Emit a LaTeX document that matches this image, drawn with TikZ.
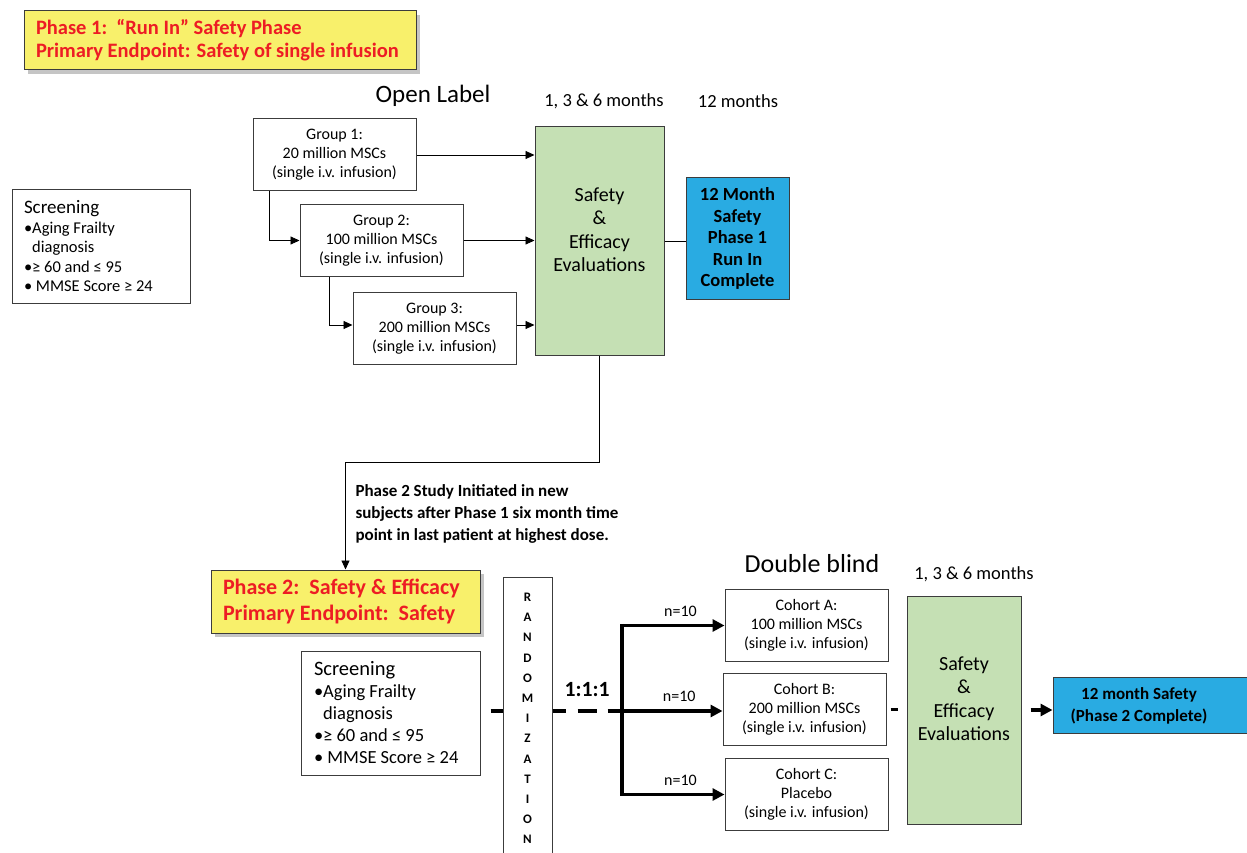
\documentclass[tikz,border=0pt]{standalone}
\usepackage{fontspec}
\setmainfont{Carlito}
\usepackage{tikz}
\usetikzlibrary{arrows,arrows.meta,shapes,shadows}
\definecolor{phaseyellow}{RGB}{248,240,107}
\definecolor{phasered}{RGB}{237,28,36}
\definecolor{evalgreen}{RGB}{197,224,180}
\definecolor{doneblue}{RGB}{41,171,226}
\definecolor{edgegray}{RGB}{60,60,60}
\newcommand{\fs}[2]{\fontsize{#1}{#2}\selectfont}
\tikzstyle{box}=[rectangle,draw=edgegray,line width=1pt,fill=white,inner sep=0pt,align=center]
\tikzstyle{group}=[box,minimum width=163pt,minimum height=72pt,font=\fs{16}{19}]
\tikzstyle{screen}=[box,align=flush left]
\tikzstyle{evalbox}=[box,fill=evalgreen]
\tikzstyle{evaltext}=[align=center,font=\fs{20}{23.5}]
\tikzstyle{done}=[box,fill=doneblue,font=\bfseries\fs{18.5}{21.5}]
\tikzstyle{phase}=[box,fill=phaseyellow,text=phasered,align=flush left,
  drop shadow={shadow xshift=4pt,shadow yshift=-4pt,fill=black!45}]
\tikzstyle{edge}=[draw,line width=0.9pt,-]
\tikzstyle{arr}=[draw,line width=0.9pt,-{Triangle[length=9pt,width=8pt]}]
\tikzstyle{fat}=[draw,line width=3.5pt,-]
\tikzstyle{fatarr}=[draw,line width=3.5pt,-{Triangle[length=12pt,width=12pt]}]
\tikzstyle{caption}=[font=\fs{18.5}{22}]
\tikzstyle{nlab}=[font=\fs{16}{18},above=4pt,pos=0.57]

\begin{document}
\begin{tikzpicture}[x=1pt,y=-1pt]
    \clip (0,0) rectangle (1247,853);
    % Phase 1
    \node[phase,minimum width=392pt,minimum height=59pt,inner xsep=12pt,
      text width=368pt,font=\bfseries\fs{20.5}{23}] (ph1) at (220,40.5)
      {Phase 1:\ \ “Run In” Safety Phase\\Primary Endpoint: Safety of single infusion};
    \node[caption,font=\fs{25}{28}] (open) at (433,96) {Open Label};
    \node[caption] (m136a) at (604,101) {1, 3 \& 6 months};
    \node[caption] (m12) at (738,101) {12 months};
    \node[screen,minimum width=178pt,minimum height=113pt,inner xsep=12pt,text width=154pt,
      font=\fs{16.5}{19.5}] (scr1) at (101,246.5)
      {{\fs{19}{20}Screening}\\•Aging Frailty\\\phantom{•}diagnosis\\•≥ 60 and ≤ 95\\•\ MMSE Score ≥ 24};
    \foreach \pos/\name/\val in {{(334.5,155)/g1/Group 1:\\20 million MSCs\\(single i.v. infusion)},
    {(381.5,240.5)/g2/Group 2:\\100 million MSCs\\(single i.v. infusion)},
    {(434.5,328.5)/g3/Group 3:\\200 million MSCs\\(single i.v. infusion)}}
        \node[group] (\name) at \pos {\val};
    \node[evalbox,minimum width=129pt,minimum height=228pt] (ev1) at (599.5,241) {};
    \node[evaltext] (ev1txt) at ([yshift=11.5pt]ev1.center) {Safety\\\&\\Efficacy\\Evaluations};
    \node[done,minimum width=103pt,minimum height=121pt] (bl1) at (737.5,238.5)
      {12 Month\\Safety\\Phase 1\\Run In\\Complete};
    \path[arr] (g1.east) -- (g1.east -| ev1.west);
    \path[arr] (g2.east) -- (g2.east -| ev1.west);
    \path[arr] ([yshift=3.5pt]g3.east) -- ([yshift=3.5pt]g3.east -| ev1.west);
    \path[arr] ([xshift=17pt]g1.south west) |- (g2.west);
    \path[arr] ([xshift=30pt]g2.south west) |- ([yshift=3.5pt]g3.west);
    \path[edge] (ev1.east) -- (ev1.east -| bl1.west);
    % Phase 2
    \node[phase,minimum width=269pt,minimum height=63pt,inner xsep=12pt,
      text width=245pt,font=\bfseries\fs{22}{26}] (ph2) at (345.5,601.5)
      {Phase 2:\ \ Safety \& Efficacy\\Primary Endpoint:\ \ Safety};
    \path[arr] (ev1.south) -- ++(0,107) -| (ph2.north);
    \node[anchor=west,align=left,font=\bfseries\fs{17}{22}] (note) at (352,514)
      {Phase 2 Study Initiated in new\\subjects after Phase 1 six month time\\point in last patient at highest dose.};
    \node[screen,minimum width=179pt,minimum height=124pt,inner xsep=13pt,text width=153pt,
      font=\fs{18.5}{22}] (scr2) at (390.5,713)
      {{\fs{20.5}{22}Screening}\\•Aging Frailty\\\phantom{•}diagnosis\\•≥ 60 and ≤ 95\\•\ MMSE Score ≥ 24};
    \node[box,minimum width=49pt,minimum height=283pt,font=\bfseries\fs{13}{20.2}] (rand) at (527.5,718.5)
      {R\\A\\N\\D\\O\\M\\I\\Z\\A\\T\\I\\O\\N};
    \node[caption,font=\fs{26}{28}] (blind) at (812,564) {Double blind};
    \node[caption] (m136b) at (974,574) {1, 3 \& 6 months};
    \foreach \pos/\name/\val in {{(806.5,625.5)/ca/Cohort A:\\100 million MSCs\\(single i.v. infusion)},
    {(804.5,709.5)/cb/Cohort B:\\200 million MSCs\\(single i.v. infusion)},
    {(806.5,794.5)/cc/Cohort C:\\Placebo\\(single i.v. infusion)}}
        \node[group] (\name) at \pos {\val};
    \node[evalbox,minimum width=114pt,minimum height=228pt] (ev2) at (964,710) {};
    \node[evaltext] (ev2txt) at ([yshift=11.5pt]ev2.center) {Safety\\\&\\Efficacy\\Evaluations};
    \node[done,minimum width=210pt,minimum height=56pt] (bl2) at (1158,705) {};
    \node[align=center,font=\bfseries\fs{17}{22}] (bl2txt) at (1139,706) {12 month Safety\\(Phase 2 Complete)};
    \coordinate (split) at (622,711);
    \node[font=\bfseries\fs{21.7}{24}] (ratio) at (587,690) {1:1:1};
    \path[fat] ([xshift=10pt]scr2.east |- split) -- (split -| rand.west);
    \path[fat,dash pattern=on 13pt off 12pt on 19pt off 11pt on 19pt off 20pt] (split -| rand.east) -- (split);
    \path[fat] ([yshift=1.75pt]split |- ca.west) -- ([yshift=-1.75pt]split |- cc.west);
    \foreach \dest in {ca,cc}
        \path[fatarr] (split |- \dest.west) -- node[nlab] {n=10} (\dest.west);
    \path[fatarr] (split) -- node[nlab] {n=10} (split -| cb.west);
    \path[fat] ([xshift=4pt]cb.east) -- ([xshift=-9pt]cb.east -| ev2.west);
    \path[fatarr] ([xshift=9pt]ev2.east) -- (ev2.east -| bl2.west);
\end{tikzpicture}
\end{document}
